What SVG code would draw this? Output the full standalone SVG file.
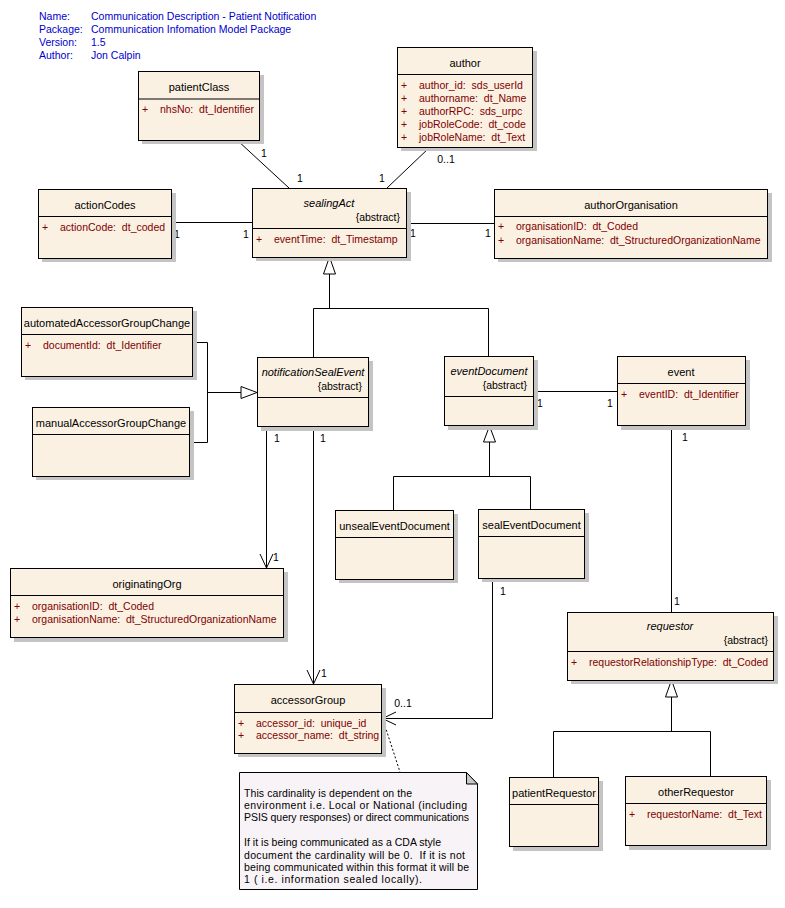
<svg xmlns="http://www.w3.org/2000/svg" width="785" height="908" viewBox="0 0 785 908" xml:space="preserve">
<style>
text{font-family:"Liberation Sans",Arial,sans-serif;font-size:10.5px;fill:#000;white-space:pre}
.hdr{fill:#0000cc}
.t{text-anchor:middle;font-size:11px}
.i{font-style:italic}
.ab{text-anchor:end;font-size:10.5px}
.at{fill:#800000}
.box{fill:#fbf1e3;stroke:#000;stroke-width:1}
.sh{fill:#c4c4c4}
.dv{stroke:#000;stroke-width:1}
.ln{stroke:#000;stroke-width:1;fill:none}
.tri{fill:#fff;stroke:#000;stroke-width:1}
.lb{font-size:10.5px}
.lbm{font-size:10.5px;text-anchor:middle}
</style>
<rect width="785" height="908" fill="#fff"/>
<g id="header">
<text class="hdr" x="39" y="20">Name:</text><text class="hdr" x="91" y="20">Communication Description - Patient Notification</text>
<text class="hdr" x="39" y="33">Package:</text><text class="hdr" x="91" y="33">Communication Infomation Model Package</text>
<text class="hdr" x="39" y="46">Version:</text><text class="hdr" x="91" y="46">1.5</text>
<text class="hdr" x="39" y="59">Author:</text><text class="hdr" x="91" y="59">Jon Calpin</text>
</g>
<g id="connectors">
<line class="ln" x1="237" y1="140" x2="289" y2="188"/>
<text class="lb" x="261" y="157">1</text>
<text class="lb" x="297" y="182">1</text>
<line class="ln" x1="430" y1="147" x2="387" y2="188"/>
<text class="lbm" x="446" y="163">0..1</text>
<text class="lb" x="379" y="182">1</text>
<line class="ln" x1="172" y1="222.5" x2="252" y2="222.5"/>
<text class="lb" x="174" y="238">1</text>
<text class="lb" x="243" y="238">1</text>
<line class="ln" x1="407" y1="223.5" x2="494" y2="223.5"/>
<text class="lb" x="410" y="237">1</text>
<text class="lb" x="485" y="237">1</text>
<polyline class="ln" points="329.5,274 329.5,308.5"/>
<polyline class="ln" points="313.5,357 313.5,308.5 488.5,308.5 488.5,356"/>
<polygon class="tri" points="329.5,257 323.5,274 335.5,274"/>
<polyline class="ln" points="193,342.5 207.5,342.5 207.5,442.5 190,442.5"/>
<line class="ln" x1="207.5" y1="392.5" x2="241" y2="392.5"/>
<polygon class="tri" points="257,392.5 241,386.5 241,398.5"/>
<line class="ln" x1="266.5" y1="427" x2="266.5" y2="568"/>
<polyline class="ln" points="260,554 266.5,568 273,554"/>
<text class="lb" x="274" y="442">1</text>
<text class="lb" x="273" y="561">1</text>
<line class="ln" x1="313.5" y1="427" x2="313.5" y2="684"/>
<polyline class="ln" points="307,670 313.5,684 320,670"/>
<text class="lb" x="320" y="442">1</text>
<text class="lb" x="321" y="677">1</text>
<line class="ln" x1="534" y1="391.5" x2="617" y2="391.5"/>
<text class="lb" x="537" y="407">1</text>
<text class="lb" x="607" y="407">1</text>
<line class="ln" x1="489.5" y1="442" x2="489.5" y2="476.5"/>
<polyline class="ln" points="393.5,510 393.5,476.5 530.5,476.5 530.5,509"/>
<polygon class="tri" points="489.5,426 483.5,442 495.5,442"/>
<polyline class="ln" points="492.5,578 492.5,718.5 382,718.5"/>
<polyline class="ln" points="396,712 382.5,718.5 396,725"/>
<text class="lb" x="500" y="595">1</text>
<text class="lbm" x="403" y="707">0..1</text>
<line class="ln" x1="671.5" y1="426" x2="671.5" y2="612"/>
<text class="lb" x="682" y="441">1</text>
<text class="lb" x="674" y="605">1</text>
<line class="ln" x1="671.5" y1="697" x2="671.5" y2="731.5"/>
<polyline class="ln" points="553.5,777 553.5,731.5 710.5,731.5 710.5,776"/>
<polygon class="tri" points="671.5,680 665.5,697 677.5,697"/>
<line class="ln" x1="385" y1="726" x2="400" y2="772" stroke-dasharray="2,2"/>
</g>
<g id="patientClass">
<rect class="sh" x="142" y="75" width="122" height="69"/>
<rect class="box" x="138.5" y="71.5" width="121" height="69"/>
<line class="dv" x1="138.5" y1="99" x2="259.5" y2="99"/>
<text class="t" x="199" y="91">patientClass</text>
<text class="at" x="142" y="113">+</text><text class="at" x="160" y="113">nhsNo:  dt_Identifier</text>
</g>
<g id="author">
<rect class="sh" x="401" y="51" width="136" height="100"/>
<rect class="box" x="397.5" y="47.5" width="135" height="100"/>
<line class="dv" x1="397.5" y1="74.5" x2="532.5" y2="74.5"/>
<text class="t" x="465" y="67">author</text>
<text class="at" x="401" y="89">+</text><text class="at" x="419" y="89">author_id:  sds_userId</text>
<text class="at" x="401" y="102">+</text><text class="at" x="419" y="102">authorname:  dt_Name</text>
<text class="at" x="401" y="115">+</text><text class="at" x="419" y="115">authorRPC:  sds_urpc</text>
<text class="at" x="401" y="128">+</text><text class="at" x="419" y="128">jobRoleCode:  dt_code</text>
<text class="at" x="401" y="141">+</text><text class="at" x="419" y="141">jobRoleName:  dt_Text</text>
</g>
<g id="actionCodes">
<rect class="sh" x="42" y="193" width="134" height="69"/>
<rect class="box" x="38.5" y="189.5" width="133" height="69"/>
<line class="dv" x1="38.5" y1="216.5" x2="171.5" y2="216.5"/>
<text class="t" x="105" y="209">actionCodes</text>
<text class="at" x="42" y="231">+</text><text class="at" x="60" y="231">actionCode:  dt_coded</text>
</g>
<g id="sealingAct">
<rect class="sh" x="256" y="192" width="155" height="69"/>
<rect class="box" x="252.5" y="188.5" width="154" height="69"/>
<line class="dv" x1="252.5" y1="228.5" x2="406.5" y2="228.5"/>
<text class="t i" x="329" y="207">sealingAct</text>
<text class="ab" x="400" y="221">{abstract}</text>
<text class="at" x="256" y="243">+</text><text class="at" x="274" y="243">eventTime:  dt_Timestamp</text>
</g>
<g id="authorOrganisation">
<rect class="sh" x="498" y="193" width="274" height="69"/>
<rect class="box" x="494.5" y="189.5" width="273" height="69"/>
<line class="dv" x1="494.5" y1="216.5" x2="767.5" y2="216.5"/>
<text class="t" x="631" y="209">authorOrganisation</text>
<text class="at" x="498" y="230">+</text><text class="at" x="516" y="230">organisationID:  dt_Coded</text>
<text class="at" x="498" y="244">+</text><text class="at" x="516" y="244">organisationName:  dt_StructuredOrganizationName</text>
</g>
<g id="automatedAccessorGroupChange">
<rect class="sh" x="25" y="311" width="172" height="69"/>
<rect class="box" x="21.5" y="307.5" width="171" height="69"/>
<line class="dv" x1="21.5" y1="334.5" x2="192.5" y2="334.5"/>
<text class="t" x="107" y="327">automatedAccessorGroupChange</text>
<text class="at" x="25" y="349">+</text><text class="at" x="43" y="349">documentId:  dt_Identifier</text>
</g>
<g id="manualAccessorGroupChange">
<rect class="sh" x="36" y="411" width="158" height="69"/>
<rect class="box" x="32.5" y="407.5" width="157" height="69"/>
<line class="dv" x1="32.5" y1="434.5" x2="189.5" y2="434.5"/>
<text class="t" x="111" y="427">manualAccessorGroupChange</text>
</g>
<g id="notificationSealEvent">
<rect class="sh" x="261" y="361" width="112" height="70"/>
<rect class="box" x="257.5" y="357.5" width="111" height="69"/>
<line class="dv" x1="257.5" y1="397.5" x2="368.5" y2="397.5"/>
<text class="t i" x="313" y="375.5">notificationSealEvent</text>
<text class="ab" x="362" y="390">{abstract}</text>
</g>
<g id="eventDocument">
<rect class="sh" x="448" y="360" width="90" height="70"/>
<rect class="box" x="444.5" y="356.5" width="89" height="69"/>
<line class="dv" x1="444.5" y1="396.5" x2="533.5" y2="396.5"/>
<text class="t i" x="489" y="375">eventDocument</text>
<text class="ab" x="527" y="389">{abstract}</text>
</g>
<g id="event">
<rect class="sh" x="621" y="360" width="129" height="70"/>
<rect class="box" x="617.5" y="356.5" width="128" height="69"/>
<line class="dv" x1="617.5" y1="383.5" x2="745.5" y2="383.5"/>
<text class="t" x="681" y="375.5">event</text>
<text class="at" x="621" y="398">+</text><text class="at" x="639" y="398">eventID:  dt_Identifier</text>
</g>
<g id="unsealEventDocument">
<rect class="sh" x="339" y="514" width="119" height="69"/>
<rect class="box" x="335.5" y="510.5" width="118" height="69"/>
<line class="dv" x1="335.5" y1="537.5" x2="453.5" y2="537.5"/>
<text class="t" x="394.5" y="530">unsealEventDocument</text>
</g>
<g id="sealEventDocument">
<rect class="sh" x="482" y="513" width="107" height="69"/>
<rect class="box" x="478.5" y="509.5" width="106" height="69"/>
<line class="dv" x1="478.5" y1="536.5" x2="584.5" y2="536.5"/>
<text class="t" x="531.5" y="529">sealEventDocument</text>
</g>
<g id="originatingOrg">
<rect class="sh" x="14" y="572" width="274" height="70"/>
<rect class="box" x="10.5" y="568.5" width="273" height="69"/>
<line class="dv" x1="10.5" y1="595.5" x2="283.5" y2="595.5"/>
<text class="t" x="147" y="588">originatingOrg</text>
<text class="at" x="14" y="610">+</text><text class="at" x="32" y="610">organisationID:  dt_Coded</text>
<text class="at" x="14" y="622.5">+</text><text class="at" x="32" y="622.5">organisationName:  dt_StructuredOrganizationName</text>
</g>
<g id="requestor">
<rect class="sh" x="571" y="616" width="207" height="68"/>
<rect class="box" x="567.5" y="612.5" width="206" height="68"/>
<line class="dv" x1="567.5" y1="651.5" x2="773.5" y2="651.5"/>
<text class="t i" x="670" y="630">requestor</text>
<text class="ab" x="768" y="644">{abstract}</text>
<text class="at" x="571" y="666">+</text><text class="at" x="589" y="666">requestorRelationshipType:  dt_Coded</text>
</g>
<g id="accessorGroup">
<rect class="sh" x="238" y="688" width="148" height="69"/>
<rect class="box" x="234.5" y="684.5" width="147" height="69"/>
<line class="dv" x1="234.5" y1="712.5" x2="381.5" y2="712.5"/>
<text class="t" x="308" y="704">accessorGroup</text>
<text class="at" x="238" y="726.5">+</text><text class="at" x="256" y="726.5">accessor_id:  unique_id</text>
<text class="at" x="238" y="739">+</text><text class="at" x="256" y="739">accessor_name:  dt_string</text>
</g>
<g id="patientRequestor">
<rect class="sh" x="513" y="781" width="90" height="70"/>
<rect class="box" x="509.5" y="777.5" width="89" height="69"/>
<line class="dv" x1="509.5" y1="804.5" x2="598.5" y2="804.5"/>
<text class="t" x="554" y="797">patientRequestor</text>
</g>
<g id="otherRequestor">
<rect class="sh" x="629" y="780" width="142" height="70"/>
<rect class="box" x="625.5" y="776.5" width="141" height="69"/>
<line class="dv" x1="625.5" y1="803.5" x2="766.5" y2="803.5"/>
<text class="t" x="696" y="796">otherRequestor</text>
<text class="at" x="629" y="818">+</text><text class="at" x="647" y="818">requestorName:  dt_Text</text>
</g>
<g id="note">
<path d="M239.5,772.5 H466.5 L477.5,784 V889.5 H239.5 Z" fill="#f8f3f6" stroke="#000"/>
<path d="M466.5,772.5 V784 H477.5 Z" fill="#c8c8c8" stroke="#000"/>
<text x="244" y="797" textLength="168" lengthAdjust="spacing">This cardinality is dependent on the</text>
<text x="244" y="809" textLength="223" lengthAdjust="spacing">environment i.e. Local or National (including</text>
<text x="244" y="821" textLength="225" lengthAdjust="spacing">PSIS query responses) or direct communications</text>
<text x="244" y="846" textLength="197" lengthAdjust="spacing">If it is being communicated as a CDA style</text>
<text x="244" y="859" textLength="221" lengthAdjust="spacing">document the cardinality will be 0.  If it is not</text>
<text x="244" y="871" textLength="225" lengthAdjust="spacing">being communicated within this format it will be</text>
<text x="244" y="883" textLength="178" lengthAdjust="spacing">1 ( i.e. information sealed locally).</text>
</g>
</svg>
